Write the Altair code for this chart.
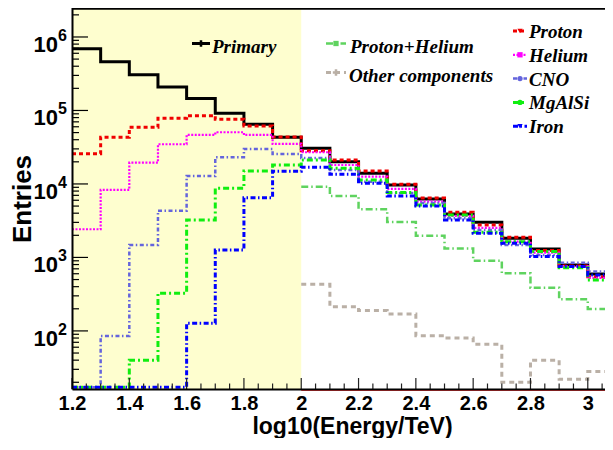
import altair as alt
import pandas as pd
import numpy as np

# ---------------- data ----------------
# left edges of the log10(E/TeV) bins, bin width 0.1
bin_left = [1.2, 1.3, 1.4, 1.5, 1.6, 1.7, 1.8, 1.9, 2.0, 2.1,
            2.2, 2.3, 2.4, 2.5, 2.6, 2.7, 2.8, 2.9, 3.0]
BIN_W = 0.1

primary = [693000, 461000, 307000, 209000, 145000, 91600, 64900, 43200, 30600, 20100,
           14000, 9690, 6250, 3910, 3010, 1820, 1300, 791, 597]
proton = [25800, 43200, 59000, 78400, 85000, 75900, 61500, 43500, 28400, 21200,
          15000, 9900, 6450, 4120, 2770, 1880, 1240, 766, 548]
helium = [2420, 8280, 19500, 34700, 46400, 50500, 46400, 35000, 27000, 18100,
          12600, 8550, 5740, 3670, 2520, 1640, 1160, 760, 526]
cno = [0, 85, 1480, 4330, 12800, 23100, 29900, 25600, 22600, 15500,
       10700, 7540, 5510, 3410, 2370, 1480, 1080, 849, 641]
mgalsi = [0, 0, 40, 326, 3240, 8740, 15000, 18100, 21200, 16400,
          11300, 7620, 5180, 3780, 2200, 1630, 1200, 726, 494]
iron = [0, 0, 0, 0, 127, 1260, 6510, 14900, 16900, 13500,
        10200, 6870, 5020, 3240, 2130, 1560, 1030, 750, 578]

# these two start at log10(E/TeV) = 2.0
bin_left_high = [2.0, 2.1, 2.2, 2.3, 2.4, 2.5, 2.6, 2.7, 2.8, 2.9, 3.0]
proton_helium = [9190, 6870, 4530, 3040, 1980, 1320, 904, 609, 388, 270, 199]
other_comp = [431, 214, 189, 170, 86, 80, 66, 20, 40, 22, 28]

x_tick_labels = [1.2, 1.4, 1.6, 1.8, 2.0, 2.2, 2.4, 2.6, 2.8, 3.0]
y_decades = [2, 3, 4, 5, 6]
shaded_range = [1.2, 2.0]

# ---------------- layout ----------------
XMIN, XMAX = 1.2, 3.088
YMIN, YMAX = 16.2, 2.64e6
W, H = 541, 383

xs = alt.Scale(domain=[XMIN, XMAX], nice=False, zero=False)
ys = alt.Scale(type="log", domain=[YMIN, YMAX], nice=False)

SANS = "Liberation Sans"
SERIF = "Liberation Serif"

xaxis = alt.Axis(values=x_tick_labels, labelExpr="format(datum.value, '.1~f')",
                 ticks=False, tickSize=0, grid=False, domain=True,
                 domainColor="black", domainWidth=2,
                 labelFont=SANS, labelFontWeight="bold", labelFontSize=20,
                 labelColor="black", labelPadding=20, labelBaseline="alphabetic",
                 labelFlush=False, labelOverlap=False,
                 title="log10(Energy/TeV)", titleFont=SANS, titleFontSize=23,
                 titleFontWeight="bold", titleColor="black", titleX=280, titleY=44.5,
                 titleAlign="center", titleBaseline="alphabetic", zindex=1)
yaxis = alt.Axis(labels=False, ticks=False, tickSize=0, grid=False, domain=True,
                 domainColor="black", domainWidth=2,
                 title="Entries", titleFont=SANS, titleFontSize=26,
                 titleFontWeight="bold", titleColor="black", titleAngle=270,
                 titleX=-42, titleY=H / 2 + 1, titleAlign="center",
                 titleBaseline="alphabetic", zindex=1)

X = alt.X("x:Q", scale=xs, axis=xaxis)
Y = alt.Y("y:Q", scale=ys, axis=yaxis)

FLOOR = YMIN * 1.06  # empty bins are drawn along the bottom of the frame


def step_df(left, vals):
    xx = list(left) + [round(left[-1] + BIN_W, 3)]
    vv = list(vals) + [vals[-1]]
    vv = [max(v, FLOOR) for v in vv]
    return pd.DataFrame({"x": xx, "y": vv})


def hist(left, vals, color, dash, width):
    kw = dict(interpolate="step-after", color=color, strokeWidth=width,
              clip=True, strokeCap="butt", strokeJoin="miter")
    if dash:
        kw["strokeDash"] = dash
    return alt.Chart(step_df(left, vals)).mark_line(**kw).encode(x=X, y=Y)


series = [
    ("Primary", bin_left, primary, "#000000", None, 3),
    ("Proton", bin_left, proton, "#f00000", [4, 3], 3),
    ("Helium", bin_left, helium, "#ff00ff", [2, 1.5], 2.2),
    ("CNO", bin_left, cno, "#6464dc", [4, 2.5, 1.5, 2.5], 2.5),
    ("MgAlSi", bin_left, mgalsi, "#10ee10", [6, 3, 2, 3], 3),
    ("Iron", bin_left, iron, "#0000ff", [5, 2.5, 1.5, 2.5], 3),
    ("Proton+Helium", bin_left_high, proton_helium, "#5fd35f", [7, 3, 1.5, 3], 2.5),
    ("Other components", bin_left_high, other_comp, "#bab0a6", [5, 4], 3),
]
style = {s[0]: s for s in series}

layers = []

# yellow shaded band
band = pd.DataFrame({"x": [shaded_range[0]], "x2": [shaded_range[1]]})
layers.append(alt.Chart(band).mark_rect(color="#fefecf").encode(
    x=X, x2="x2:Q", y=alt.value(0), y2=alt.value(H)))

# histograms
for name, left, vals, color, dash, width in series:
    layers.append(hist(left, vals, color, dash, width))

# thin red line along bottom beyond the band
redline = pd.DataFrame({"x": [shaded_range[1]], "x2": [XMAX]})
layers.append(alt.Chart(redline).mark_rule(color="#ff4040", strokeWidth=1).encode(
    x=X, x2="x2:Q", y=alt.value(H + 1.5)))

# inner ticks (ROOT style)
xt = np.round(np.arange(1.2, 3.0876, 0.05), 3)
xmaj = pd.DataFrame({"x": [v for v in xt if abs(v * 5 - round(v * 5)) < 1e-6]})
xmin_ = pd.DataFrame({"x": [v for v in xt if abs(v * 5 - round(v * 5)) >= 1e-6]})
layers.append(alt.Chart(xmaj).mark_rule(color="#222222", strokeWidth=1.2).encode(
    x=X, y=alt.value(H), y2=alt.value(H - 11)))
layers.append(alt.Chart(xmin_).mark_rule(color="#222222", strokeWidth=1.2).encode(
    x=X, y=alt.value(H), y2=alt.value(H - 5.5)))

ymaj_v, ymin_v = [], []
for e in range(1, 7):
    for m in range(1, 10):
        v = m * 10 ** e
        if YMIN <= v <= YMAX:
            (ymaj_v if m == 1 else ymin_v).append(v)
layers.append(alt.Chart(pd.DataFrame({"y": ymaj_v})).mark_rule(
    color="#000000", strokeWidth=1.2).encode(y=Y, x=alt.value(0), x2=alt.value(16)))
layers.append(alt.Chart(pd.DataFrame({"y": ymin_v})).mark_rule(
    color="#000000", strokeWidth=1.2).encode(y=Y, x=alt.value(0), x2=alt.value(7)))

# y tick labels 10^n
ylab = pd.DataFrame({"y": [10.0 ** e for e in y_decades],
                     "base": ["10"] * len(y_decades),
                     "exp": [str(e) for e in y_decades]})
layers.append(alt.Chart(ylab).mark_text(
    font=SANS, fontWeight="bold", fontSize=22, align="right", baseline="alphabetic",
    dy=15, color="black").encode(y=Y, x=alt.value(-14), text="base:N"))
layers.append(alt.Chart(ylab).mark_text(
    font=SANS, fontWeight="bold", fontSize=16, align="left", baseline="alphabetic",
    dy=4, color="black").encode(y=Y, x=alt.value(-14), text="exp:N"))

# top frame line
layers.append(alt.Chart(band).mark_rule(color="black", strokeWidth=2).encode(
    x=alt.value(0), x2=alt.value(W), y=alt.value(2.8)))

# ---------------- legends ----------------
def legend_item(name, x1, x2, y_line, x_text, y_base, shape):
    _, _, _, color, dash, width = style[name]
    out = []
    kw = dict(color=color, strokeWidth=width, strokeCap="butt")
    if dash:
        kw["strokeDash"] = dash
    out.append(alt.Chart(band).mark_rule(**kw).encode(
        x=alt.value(x1), x2=alt.value(x2), y=alt.value(y_line)))
    filled = shape != "cross"
    out.append(alt.Chart(band).mark_point(
        shape=shape, filled=True, size=28 if filled else 40, color=color,
        opacity=1).encode(x=alt.value((x1 + x2) / 2), y=alt.value(y_line)))
    out.append(alt.Chart(band).mark_text(
        text=name, font=SERIF, fontStyle="italic", fontWeight="bold", fontSize=19,
        align="left", baseline="alphabetic", color="black").encode(
        x=alt.value(x_text), y=alt.value(y_base)))
    return out

layers += legend_item("Primary", 120, 138, 37.5, 140, 46.5, "cross")
layers += legend_item("Proton+Helium", 254, 274, 37.5, 278, 46.5, "square")
layers += legend_item("Other components", 254, 274, 66.5, 277, 75.5, "cross")
right_names = ["Proton", "Helium", "CNO", "MgAlSi", "Iron"]
right_shapes = ["triangle-down", "square", "circle", "circle", "triangle-down"]
for i, (nm, shp) in enumerate(zip(right_names, right_shapes)):
    yc = 25.0 + 23.8 * i
    layers += legend_item(nm, 441, 455, yc, 457, yc + 7, shp)

chart = alt.layer(*layers).properties(
    width=W, height=H,
    autosize=alt.AutoSizeParams(type="none"),
    padding={"left": 64, "top": -2, "right": -8, "bottom": 49},
    background="white",
).configure_view(strokeWidth=0)

chart.save("out.html", embed_options={"renderer": "svg", "actions": False})
